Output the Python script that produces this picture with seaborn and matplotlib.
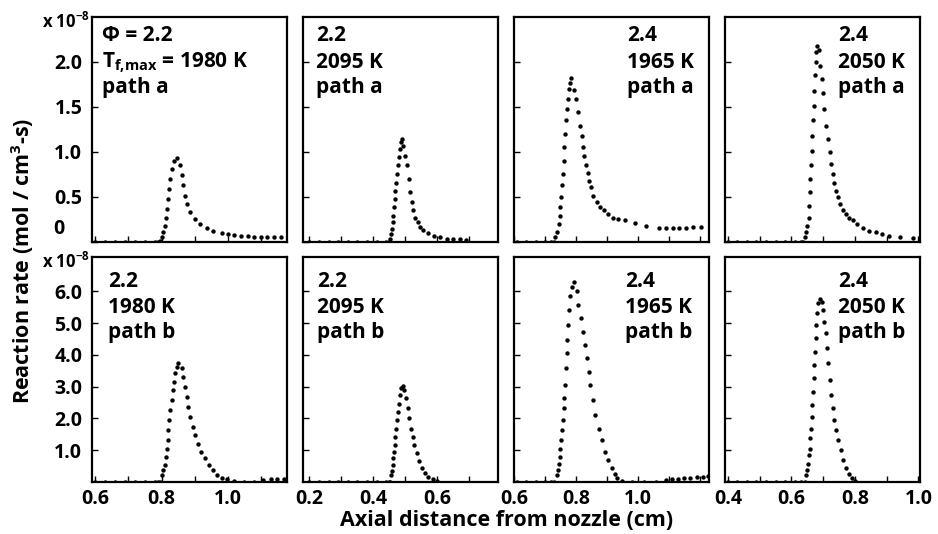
import matplotlib
matplotlib.use("Agg")
import matplotlib.pyplot as plt
import seaborn as sns
import pandas as pd
from matplotlib.ticker import MultipleLocator, FixedLocator

# ---------------- data ----------------
# column 1: phi 2.2, 1980 K
x_1a = [0.60, 0.63, 0.66, 0.69, 0.72, 0.75, 0.78, 0.79,
        0.796, 0.801, 0.806, 0.811, 0.814, 0.816, 0.819, 0.823, 0.827, 0.832, 0.838, 0.846,
        0.856, 0.861, 0.866, 0.871, 0.877, 0.887, 0.902, 0.917, 0.937, 0.957, 0.982,
        1.00, 1.02, 1.04, 1.06, 1.08, 1.10, 1.12, 1.14, 1.16]
y_1a = [0, 0, 0, 0, 0, 0, 0, 0,
        0.01, 0.05, 0.11, 0.18, 0.27, 0.37, 0.48, 0.59, 0.70, 0.81, 0.90, 0.93,
        0.85, 0.74, 0.63, 0.51, 0.42, 0.33, 0.26, 0.20, 0.16, 0.125, 0.097,
        0.085, 0.075, 0.07, 0.065, 0.06, 0.055, 0.05, 0.05, 0.05]

x_1b = [0.60, 0.63, 0.66, 0.69, 0.72, 0.75, 0.78, 0.79,
        0.796, 0.801, 0.806, 0.811, 0.814, 0.816, 0.819, 0.821, 0.824, 0.827, 0.831, 0.834,
        0.838, 0.842, 0.846, 0.851,
        0.861, 0.866, 0.871, 0.877, 0.881, 0.887, 0.894, 0.902, 0.910, 0.920, 0.930, 0.942,
        0.955, 0.967, 0.982, 0.998,
        1.02, 1.05, 1.08, 1.107, 1.13, 1.15, 1.17]
y_1b = [0, 0, 0, 0, 0, 0, 0, 0,
        0.0, 0.21, 0.37, 0.55, 0.79, 1.05, 1.32, 1.63, 1.95, 2.26, 2.58, 2.89,
        3.16, 3.42, 3.63, 3.75,
        3.58, 3.32, 3.0, 2.68, 2.37, 2.05, 1.74, 1.47, 1.21, 0.95, 0.74, 0.53,
        0.37, 0.23, 0.13, 0.08,
        0.02, 0.0, 0.0, 0.06, 0.08, 0.09, 0.10]

# column 2: phi 2.2, 2095 K
x_2a = [0.20, 0.23, 0.26, 0.29, 0.32, 0.35, 0.38, 0.41, 0.44, 0.45,
        0.452, 0.455, 0.458, 0.461, 0.462, 0.465, 0.467, 0.469, 0.471, 0.473, 0.476, 0.479,
        0.482, 0.486, 0.489,
        0.494, 0.499, 0.504, 0.510, 0.515, 0.520, 0.525, 0.530, 0.538, 0.546, 0.556, 0.572,
        0.588, 0.609, 0.629, 0.65, 0.67, 0.69]
y_2a = [0, 0, 0, 0, 0, 0, 0, 0, 0, 0,
        0.03, 0.09, 0.14, 0.22, 0.29, 0.39, 0.48, 0.57, 0.66, 0.76, 0.85, 0.94,
        1.03, 1.11, 1.14,
        1.07, 0.96, 0.85, 0.70, 0.55, 0.44, 0.35, 0.27, 0.22, 0.17, 0.13, 0.10,
        0.07, 0.05, 0.033, 0.03, 0.03, 0.025]

x_2b = [0.20, 0.23, 0.26, 0.29, 0.32, 0.35, 0.38, 0.41, 0.44, 0.45,
        0.452, 0.455, 0.458, 0.461, 0.462, 0.465, 0.467, 0.469, 0.471, 0.473, 0.476, 0.479,
        0.482, 0.486, 0.492,
        0.496, 0.502, 0.507, 0.512, 0.517, 0.523, 0.528, 0.535, 0.543, 0.552, 0.561, 0.572,
        0.586, 0.60]
y_2b = [0, 0, 0, 0, 0, 0, 0, 0, 0, 0,
        0.0, 0.21, 0.34, 0.53, 0.74, 0.95, 1.16, 1.42, 1.68, 1.95, 2.21, 2.47,
        2.74, 2.95, 3.02,
        2.89, 2.63, 2.32, 2.0, 1.68, 1.42, 1.16, 0.90, 0.65, 0.44, 0.29, 0.16,
        0.09, 0.04]

# column 3: phi 2.4, 1965 K
x_3a = [0.61, 0.64, 0.67, 0.70, 0.72,
        0.729, 0.734, 0.740, 0.745, 0.748, 0.750, 0.753, 0.756, 0.759, 0.761, 0.763, 0.765,
        0.769, 0.772, 0.775, 0.778, 0.782, 0.785,
        0.795, 0.801, 0.807, 0.814, 0.820, 0.823, 0.827, 0.832, 0.838, 0.843, 0.849, 0.857,
        0.868, 0.878, 0.891, 0.905, 0.921, 0.937, 0.958, 0.990, 1.028,
        1.07, 1.092, 1.113, 1.134, 1.156, 1.177, 1.204]
y_3a = [0, 0, 0, 0, 0,
        0.0, 0.05, 0.11, 0.20, 0.29, 0.39, 0.50, 0.63, 0.76, 0.90, 1.05, 1.20,
        1.35, 1.48, 1.59, 1.70, 1.77, 1.82,
        1.69, 1.59, 1.44, 1.29, 1.18, 1.05, 0.96, 0.85, 0.77, 0.68, 0.61, 0.51,
        0.44, 0.39, 0.35, 0.31, 0.27, 0.26, 0.24, 0.21, 0.18,
        0.16, 0.16, 0.16, 0.16, 0.16, 0.165, 0.17]

x_3b = [0.61, 0.64, 0.67, 0.70, 0.72,
        0.729, 0.738, 0.742, 0.746, 0.748, 0.750, 0.753, 0.756, 0.759, 0.761, 0.763, 0.765,
        0.767, 0.770, 0.772, 0.775, 0.778, 0.782, 0.788, 0.795,
        0.803, 0.808, 0.816, 0.823, 0.830, 0.836, 0.841, 0.846, 0.855, 0.863, 0.874, 0.884,
        0.894, 0.905, 0.916, 0.926, 0.934, 0.95,
        0.98, 1.02, 1.06, 1.09, 1.11, 1.13, 1.15, 1.17, 1.19, 1.21, 1.225]
y_3b = [0, 0, 0, 0, 0,
        0.0, 0.23, 0.37, 0.58, 0.79, 1.05, 1.32, 1.63, 1.95, 2.32, 2.63, 3.05,
        3.58, 4.05, 4.47, 4.94, 5.42, 5.84, 6.15, 6.30,
        6.0, 5.57, 5.15, 4.73, 4.31, 3.89, 3.47, 3.05, 2.58, 2.10, 1.68, 1.32,
        0.95, 0.69, 0.44, 0.26, 0.13, 0.04,
        0.0, 0.0, 0.0, 0.05, 0.08, 0.10, 0.12, 0.14, 0.16, 0.17, 0.18]

# column 4: phi 2.4, 2050 K
x_4a = [0.40, 0.43, 0.46, 0.49, 0.52, 0.55, 0.58, 0.61, 0.63,
        0.637, 0.642, 0.647, 0.650, 0.654, 0.656, 0.658, 0.660, 0.662, 0.664, 0.666, 0.668,
        0.670, 0.672, 0.674, 0.676, 0.678, 0.680,
        0.687, 0.691, 0.695, 0.699, 0.704, 0.710, 0.714, 0.720, 0.725, 0.730, 0.735, 0.741,
        0.746, 0.753, 0.761, 0.772, 0.782, 0.795, 0.808, 0.824, 0.844, 0.865, 0.886, 0.907,
        0.943, 0.984]
y_4a = [0, 0, 0, 0, 0, 0, 0, 0, 0,
        0.0, 0.05, 0.11, 0.18, 0.27, 0.40, 0.55, 0.70, 0.85, 1.01, 1.18, 1.35,
        1.51, 1.68, 1.85, 2.0, 2.11, 2.18,
        2.13, 1.96, 1.81, 1.66, 1.48, 1.29, 1.14, 1.0, 0.87, 0.76, 0.66, 0.57,
        0.50, 0.42, 0.36, 0.31, 0.27, 0.24, 0.20, 0.16, 0.125, 0.11, 0.09, 0.07,
        0.05, 0.04]

x_4b = [0.40, 0.43, 0.46, 0.49, 0.52, 0.55, 0.58, 0.61, 0.63,
        0.642, 0.645, 0.649, 0.652, 0.656, 0.658, 0.660, 0.662, 0.664, 0.666, 0.668, 0.670,
        0.672, 0.674, 0.676, 0.678, 0.682, 0.685, 0.689,
        0.695, 0.699, 0.704, 0.708, 0.712, 0.716, 0.720, 0.725, 0.730, 0.735, 0.741, 0.748,
        0.756, 0.764, 0.772, 0.782, 0.790, 0.80]
y_4b = [0, 0, 0, 0, 0, 0, 0, 0, 0,
        0.0, 0.21, 0.37, 0.58, 0.84, 1.05, 1.37, 1.68, 2.05, 2.42, 2.84, 3.26,
        3.68, 4.10, 4.52, 4.94, 5.31, 5.63, 5.75,
        5.68, 5.42, 5.05, 4.68, 4.21, 3.73, 3.21, 2.74, 2.32, 1.95, 1.63, 1.32,
        1.0, 0.69, 0.44, 0.26, 0.13, 0.04]

labels_a = [["Φ = 2.2", r"T$_{\mathbf{f{,}max}}$ = 1980 K", "path a"],
            ["2.2", "2095 K", "path a"],
            ["2.4", "1965 K", "path a"],
            ["2.4", "2050 K", "path a"]]
labels_b = [["2.2", "1980 K", "path b"],
            ["2.2", "2095 K", "path b"],
            ["2.4", "1965 K", "path b"],
            ["2.4", "2050 K", "path b"]]

xlims = [(0.59, 1.18), (0.18, 0.79), (0.60, 1.23), (0.39, 1.005)]
xticks = [[0.6, 0.8, 1.0], [0.2, 0.4, 0.6], [0.6, 0.8, 1.0], [0.4, 0.6, 0.8, 1.0]]
top_yticks = [0.5, 1.0, 1.5, 2.0]
bot_yticks = [1.0, 2.0, 3.0, 4.0, 5.0, 6.0]
top_ylim = (0, 2.5)
bot_ylim = (0, 7.08)

xlabel = "Axial distance from nozzle (cm)"
ylabel = r"Reaction rate (mol / cm$^{\mathbf{3}}$-s)"
scale_label = r"x 10$^{\mathbf{-8}}$"

# ---------------- style ----------------
sns.set_theme(style="white")
plt.rcParams["font.family"] = ["Open Sans", "DejaVu Sans"]
plt.rcParams["font.weight"] = "bold"
plt.rcParams["text.color"] = "black"
plt.rcParams["axes.labelcolor"] = "black"
plt.rcParams["mathtext.fontset"] = "custom"
plt.rcParams["mathtext.rm"] = "Open Sans"
plt.rcParams["mathtext.bf"] = "Open Sans:bold"
plt.rcParams["mathtext.it"] = "Open Sans:italic"
plt.rcParams["mathtext.default"] = "bf"

FS_TXT = 15
FS_TICK = 14
FS_AX = 15.5

fig = plt.figure(figsize=(9.38, 5.34), dpi=100)
gs = fig.add_gridspec(2, 4, left=92/938, right=920/938, bottom=52/534, top=517/534,
                      wspace=0.08, hspace=0.067)

top_data = [(x_1a, y_1a), (x_2a, y_2a), (x_3a, y_3a), (x_4a, y_4a)]
bot_data = [(x_1b, y_1b), (x_2b, y_2b), (x_3b, y_3b), (x_4b, y_4b)]

text_x_top = [0.05, 0.067, 0.579, 0.582]
text_x_bot = [0.082, 0.072, 0.569, 0.582]
text_y_top = [0.918, 0.796, 0.686]
text_y_bot = [0.893, 0.777, 0.665]

for row in range(2):
    for col in range(4):
        ax = fig.add_subplot(gs[row, col])
        xs, ys = (top_data if row == 0 else bot_data)[col]
        df = pd.DataFrame({"x": xs, "y": ys})
        sns.scatterplot(data=df, x="x", y="y", ax=ax, color="black", s=10,
                        linewidth=0, legend=False, clip_on=True)
        ax.set_xlim(*xlims[col])
        ax.set_xlabel("")
        ax.set_ylabel("")
        for sp in ax.spines.values():
            sp.set_linewidth(1.6)
            sp.set_color("black")
        ax.xaxis.set_major_locator(FixedLocator(xticks[col]))
        ax.xaxis.set_minor_locator(MultipleLocator(0.1))
        if row == 0:
            ax.set_ylim(*top_ylim)
            ax.yaxis.set_major_locator(FixedLocator([0.0] + top_yticks))
            if col == 0:
                ax.set_yticklabels([""] + [f"{v:.1f}" for v in top_yticks])
            else:
                ax.set_yticklabels([])
            ax.set_xticklabels([])
            labs = labels_a[col]
            tx, tys = text_x_top[col], text_y_top
        else:
            ax.set_ylim(*bot_ylim)
            ax.yaxis.set_major_locator(FixedLocator(bot_yticks))
            if col == 0:
                ax.set_yticklabels([f"{v:.1f}" for v in bot_yticks])
            else:
                ax.set_yticklabels([])
            ax.set_xticklabels([f"{v:.1f}" for v in xticks[col]])
            labs = labels_b[col]
            tx, tys = text_x_bot[col], text_y_bot
        ax.tick_params(axis="both", which="both", direction="in", length=4, width=1,
                       color="black", labelsize=FS_TICK, labelcolor="black",
                       left=True, bottom=True, top=False, right=False)
        ax.tick_params(axis="y", pad=7)
        ax.tick_params(axis="x", pad=5)
        for lab in ax.get_xticklabels() + ax.get_yticklabels():
            lab.set_fontweight("bold")
        for t, ty in zip(labs, tys):
            ax.text(tx, ty, t, transform=ax.transAxes, ha="left", va="center",
                    fontsize=FS_TXT, fontweight="bold", color="black")
        if col == 0:
            ax.annotate(scale_label, xy=(0, 1), xycoords="axes fraction",
                        xytext=(-2, -5), textcoords="offset pixels",
                        ha="right", va="center", fontsize=12, fontweight="bold",
                        color="black")
            if row == 0:
                ax.annotate("0", xy=(0, 0), xycoords="axes fraction",
                            xytext=(-39, 13), textcoords="offset pixels",
                            ha="left", va="center", fontsize=FS_TICK, fontweight="bold",
                            color="black")

fig.text(23/938, 1 - 261/534, ylabel, rotation=90, ha="center", va="center",
         fontsize=FS_AX, fontweight="bold", color="black")
fig.text(507/938, 1 - 521/534, xlabel, ha="center", va="center",
         fontsize=FS_AX, fontweight="bold", color="black")

fig.savefig("out.png", dpi=100)
